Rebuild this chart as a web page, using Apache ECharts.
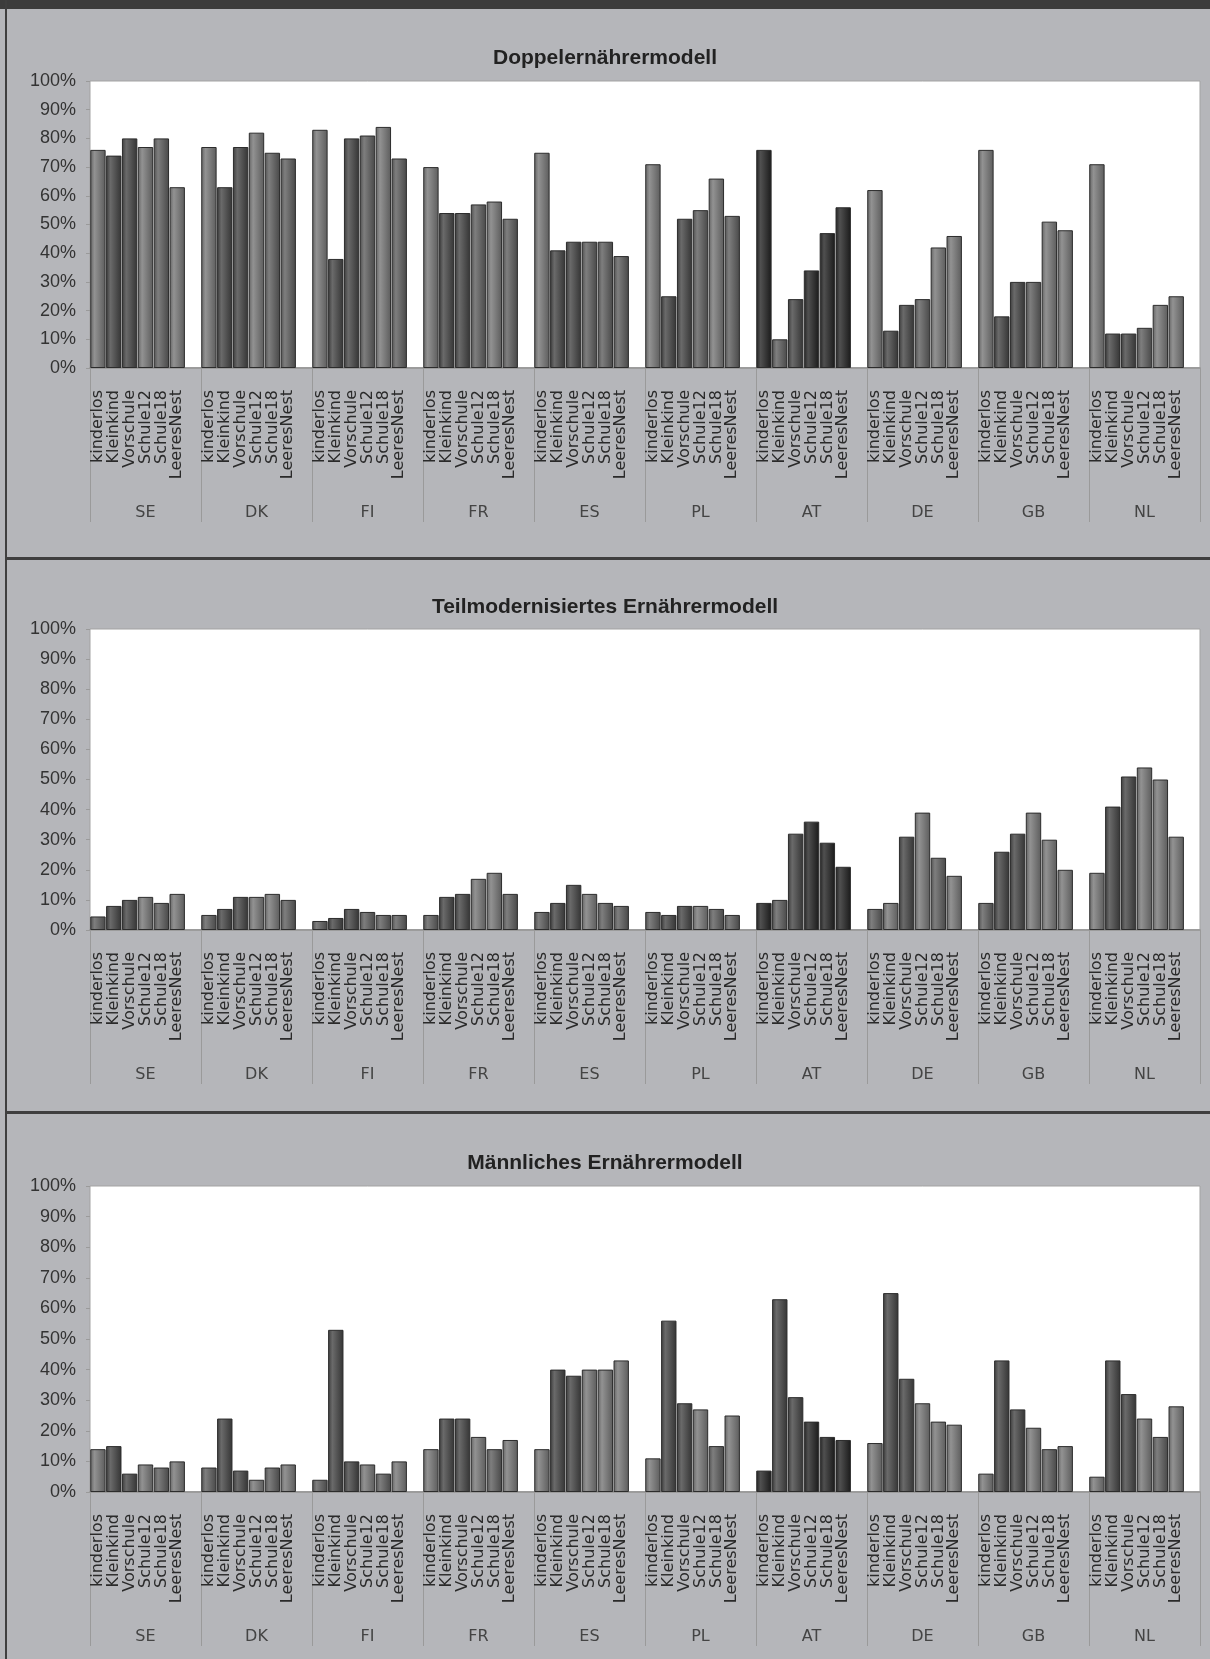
<!DOCTYPE html>
<html>
<head>
<meta charset="utf-8">
<script src="https://cdn.jsdelivr.net/npm/echarts@6/dist/echarts.min.js"></script>
<style>
  html, body { margin: 0; padding: 0; background: #b5b6ba; }
  #chart { width: 1210px; height: 1659px; }
</style>
</head>
<body>
<div id="chart"></div>
<script>
const COUNTRIES = ['SE', 'DK', 'FI', 'FR', 'ES', 'PL', 'AT', 'DE', 'GB', 'NL'];
const STAGES = ['kinderlos', 'Kleinkind', 'Vorschule', 'Schule12', 'Schule18', 'LeeresNest'];
const Y_TICKS = [0, 10, 20, 30, 40, 50, 60, 70, 80, 90, 100];
const TITLES = ['Doppelernährermodell', 'Teilmodernisiertes Ernährermodell', 'Männliches Ernährermodell'];

// one row per country, one value per stage (percent)
const doppelValues = [
  [76, 74, 80, 77, 80, 63],
  [77, 63, 77, 82, 75, 73],
  [83, 38, 80, 81, 84, 73],
  [70, 54, 54, 57, 58, 52],
  [75, 41, 44, 44, 44, 39],
  [71, 25, 52, 55, 66, 53],
  [76, 10, 24, 34, 47, 56],
  [62, 13, 22, 24, 42, 46],
  [76, 18, 30, 30, 51, 48],
  [71, 12, 12, 14, 22, 25]
];

const teilValues = [
  [4.5, 8, 10, 11, 9, 12],
  [5, 7, 11, 11, 12, 10],
  [3, 4, 7, 6, 5, 5],
  [5, 11, 12, 17, 19, 12],
  [6, 9, 15, 12, 9, 8],
  [6, 5, 8, 8, 7, 5],
  [9, 10, 32, 36, 29, 21],
  [7, 9, 31, 39, 24, 18],
  [9, 26, 32, 39, 30, 20],
  [19, 41, 51, 54, 50, 31]
];

const maennValues = [
  [14, 15, 6, 9, 8, 10],
  [8, 24, 7, 4, 8, 9],
  [4, 53, 10, 9, 6, 10],
  [14, 24, 24, 18, 14, 17],
  [14, 40, 38, 40, 40, 43],
  [11, 56, 29, 27, 15, 25],
  [7, 63, 31, 23, 18, 17],
  [16, 65, 37, 29, 23, 22],
  [6, 43, 27, 21, 14, 15],
  [5, 43, 32, 24, 18, 28]
];

// grey shade of each bar (style only): X very dark, D dark, M medium, L light
const SHADES = [
  ['LDDLML', 'LDDLMM', 'LDDMLM', 'LDDMLM', 'LDDMMM', 'LDDMLM', 'XMDXXX', 'LDDMLL', 'LDDMLL', 'LDDMLL'],
  ['MDDLML', 'MDDLLM', 'MDDMMM', 'MDDLLM', 'MDDLMM', 'MDDLMM', 'XMDXXX', 'MLDLML', 'MDDLLL', 'LDDLLL'],
  ['LDDLML', 'MDDLML', 'MDDLML', 'LDDLML', 'LDDLLL', 'LDDLML', 'XDDXXX', 'LDDLLL', 'LDDLML', 'LDDLML']
];
const SHADE_BASE = { X: 50, D: 76, M: 96, L: 116 };

const PANELS = [
  { values: doppelValues, top: 81, bottom: 368, titleY: 43 },
  { values: teilValues, top: 629, bottom: 930, titleY: 592 },
  { values: maennValues, top: 1186, bottom: 1492, titleY: 1148 }
];

const PLOT_LEFT = 90;
const PLOT_RIGHT = 1200;

function grey(v) {
  const c = Math.max(0, Math.min(255, Math.round(v)));
  return 'rgb(' + c + ',' + c + ',' + c + ')';
}

function barStyle(letter) {
  const b = SHADE_BASE[letter];
  return {
    color: {
      type: 'linear', x: 0, y: 0, x2: 1, y2: 0,
      colorStops: [
        { offset: 0, color: grey(b - 16) },
        { offset: 0.28, color: grey(b + 30) },
        { offset: 0.55, color: grey(b + 10) },
        { offset: 1, color: grey(b - 24) }
      ]
    },
    borderColor: '#2c2c2c',
    borderWidth: 1
  };
}

// 7 slots per country: 6 stages plus an empty gap slot
const slotLabels = [];
COUNTRIES.forEach(() => {
  STAGES.forEach(s => slotLabels.push(s));
  slotLabels.push('');
});

const chart = echarts.init(document.getElementById('chart'), null, { renderer: 'canvas' });

const grids = [], xAxes = [], yAxes = [], series = [], titles = [];

PANELS.forEach((p, i) => {
  grids.push({
    left: PLOT_LEFT,
    width: PLOT_RIGHT - PLOT_LEFT,
    top: p.top,
    height: p.bottom - p.top,
    show: true,
    backgroundColor: '#ffffff',
    borderColor: '#a3a3a3',
    borderWidth: 1
  });

  titles.push({
    text: TITLES[i],
    left: 'center',
    top: p.titleY,
    textStyle: {
      fontFamily: 'Liberation Sans',
      fontSize: 21,
      fontWeight: 'bold',
      color: '#222'
    }
  });

  xAxes.push({
    type: 'category',
    gridIndex: i,
    data: slotLabels,
    axisLine: { show: true, lineStyle: { color: '#9c9c9c', width: 2 } },
    axisTick: { show: false },
    axisLabel: {
      interval: 0,
      rotate: 90,
      margin: 22,
      fontFamily: 'DejaVu Sans',
      fontSize: 16,
      color: '#2a2a2a',
      hideOverlap: false
    }
  });

  xAxes.push({
    type: 'category',
    gridIndex: i,
    data: COUNTRIES,
    position: 'bottom',
    offset: 154,
    axisLine: { show: false },
    axisTick: {
      show: true,
      inside: true,
      length: 154,
      lineStyle: { color: '#9a9a9a', width: 1 }
    },
    axisLabel: {
      inside: true,
      margin: 1,
      fontFamily: 'DejaVu Sans',
      fontSize: 16,
      color: '#444'
    }
  });

  yAxes.push({
    type: 'value',
    gridIndex: i,
    min: Y_TICKS[0],
    max: Y_TICKS[Y_TICKS.length - 1],
    interval: Y_TICKS[1] - Y_TICKS[0],
    axisLine: { show: false },
    axisTick: { show: true, length: 4, lineStyle: { color: '#9a9a9a' } },
    splitLine: { show: false },
    axisLabel: {
      margin: 14,
      formatter: v => v + '%',
      fontFamily: 'Liberation Sans',
      fontSize: 18,
      color: '#333'
    }
  });

  const data = [];
  p.values.forEach((row, c) => {
    row.forEach((v, s) => {
      data.push({ value: v, itemStyle: barStyle(SHADES[i][c][s]) });
    });
    data.push(null);
  });

  series.push({
    type: 'bar',
    xAxisIndex: i * 2,
    yAxisIndex: i,
    data: data,
    barCategoryGap: '3%',
    animation: false
  });
});

const frame = [
  { type: 'rect', shape: { x: 0, y: 0, width: 1210, height: 9 }, style: { fill: '#3c3c3c' } },
  { type: 'rect', shape: { x: 5, y: 0, width: 2, height: 1659 }, style: { fill: '#3f3f3f' } },
  { type: 'rect', shape: { x: 5, y: 557, width: 1205, height: 3 }, style: { fill: '#3f3f3f' } },
  { type: 'rect', shape: { x: 5, y: 1111, width: 1205, height: 3 }, style: { fill: '#3f3f3f' } }
];

chart.setOption({
  backgroundColor: '#b5b6ba',
  animation: false,
  title: titles,
  grid: grids,
  xAxis: xAxes,
  yAxis: yAxes,
  series: series,
  graphic: frame
});
</script>
</body>
</html>
